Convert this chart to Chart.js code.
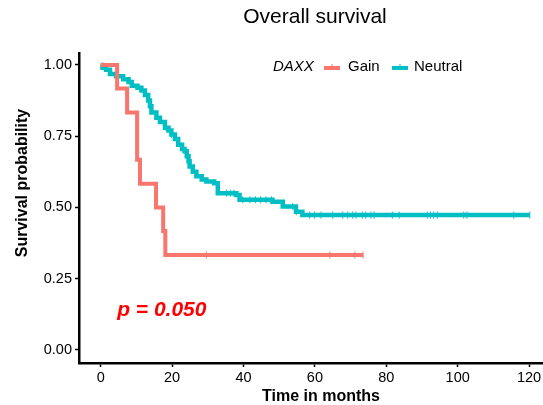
<!DOCTYPE html>
<html>
<head>
<meta charset="utf-8">
<script src="https://cdn.jsdelivr.net/npm/chart.js@4.4.1/dist/chart.umd.min.js"></script>
<style>
  html, body { margin: 0; padding: 0; background: #fff; }
</style>
</head>
<body>
<canvas id="km" width="543" height="405"></canvas>
<script>
// Kaplan-Meier steps: time (months) -> survival after the drop
const gainTimes = [0, 4.6, 7.4, 10.2, 11.0, 15.5, 17.5, 18.1, 73.5];
const gainSurv  = [1, 0.917, 0.833, 0.667, 0.583, 0.5, 0.417, 0.333, 0.333];
const gainCensor = [29.6, 64.2, 71.2, 73.5];

const neutralTimes = [0, 0.5, 1.5, 2.6, 4.3, 6.3, 7.8, 8.7, 10.3, 11.4, 12.4, 13.3, 13.8, 14.2,
  15.6, 16.6, 18.0, 19.0, 19.8, 20.8, 21.7, 22.8, 23.5, 24.1, 24.6, 24.9, 25.8, 26.8, 28.3,
  29.6, 31.8, 32.8, 38.0, 38.9, 48.1, 51.0, 54.7, 56.5, 120.2];
const neutralSurv = [1, 0.99, 0.983, 0.968, 0.96, 0.95, 0.94, 0.927, 0.92, 0.91, 0.895, 0.875, 0.855, 0.833,
  0.815, 0.8, 0.78, 0.77, 0.756, 0.74, 0.72, 0.705, 0.697, 0.68, 0.662, 0.644, 0.625, 0.609, 0.598,
  0.591, 0.585, 0.55, 0.544, 0.527, 0.52, 0.503, 0.485, 0.473, 0.473];
const neutralCensor = [18.3, 19.8, 35.3, 36.3, 37.3, 39.8, 41.8, 43.3, 44.8, 46.3, 47.8, 53.8, 54.8,
  58.5, 59.9, 61.7, 65.0, 67.8, 69.2, 70.6, 71.5, 73.3, 74.2, 75.7, 76.6, 81.7, 83.6, 91.5, 92.4,
  93.3, 94.3, 101.7, 102.6, 115.7, 120.2];

const groups = ['Gain', 'Neutral'];
const colors = ['#F8766D', '#00BFC4'];
const xTicks = [0, 20, 40, 60, 80, 100, 120];
const yTicks = [0, 0.25, 0.5, 0.75, 1];
const pLabel = 'p = 0.050';

const FONT = '"Liberation Sans", Arial, Helvetica, sans-serif';

function curve(times, surv) {
  return times.map((t, i) => ({ x: t, y: surv[i] }));
}
// level of the KM curve at time t (for censor marks)
function levelAt(times, surv, t) {
  let v = surv[0];
  for (let i = 0; i < times.length; i++) {
    if (times[i] <= t) v = surv[i];
  }
  return v;
}
function censorPts(cens, times, surv) {
  return cens.map(t => ({ x: t, y: levelAt(times, surv, t) }));
}

const lineDs = (label, data, color, w) => ({
  type: 'line', label, data, stepped: true, borderColor: color, backgroundColor: color,
  borderWidth: w, pointRadius: 0, fill: false, order: 2
});
const censorDs = (label, data, color) => ({
  type: 'scatter', label, data, pointStyle: 'line', rotation: 90, pointRadius: 3.5,
  borderColor: color, backgroundColor: color, pointBorderWidth: 1, order: 1
});

// text that ggplot puts outside the axes: title, axis titles, legend, p-value
const textPlugin = {
  id: 'kmText',
  afterDraw(chart) {
    const ctx = chart.ctx;
    const xs = chart.scales.x, ys = chart.scales.y;
    ctx.save();
    ctx.fillStyle = '#000';
    ctx.textBaseline = 'middle';
    ctx.textAlign = 'center';
    ctx.font = '21px ' + FONT;
    ctx.fillText('Overall survival', 315, 17);

    ctx.font = 'bold 16px ' + FONT;
    ctx.fillText('Time in months', 321, 397);
    ctx.save();
    ctx.translate(23, 183);
    ctx.rotate(-Math.PI / 2);
    ctx.fillText('Survival probability', 0, 0);
    ctx.restore();

    // legend
    const ly = ys.getPixelForValue(1) + 2;
    ctx.textAlign = 'left';
    ctx.font = 'italic 15px ' + FONT;
    ctx.fillText('DAXX', 273, ly);
    ctx.font = '15px ' + FONT;
    const keyX = [324, 392];
    const txtX = [348, 414];
    groups.forEach((g, i) => {
      ctx.strokeStyle = colors[i];
      ctx.lineWidth = 4;
      ctx.beginPath();
      ctx.moveTo(keyX[i], ly + 1);
      ctx.lineTo(keyX[i] + 16, ly + 1);
      ctx.stroke();
      ctx.lineWidth = 1;
      ctx.beginPath();
      ctx.moveTo(keyX[i] + 8, ly - 3);
      ctx.lineTo(keyX[i] + 8, ly + 3);
      ctx.stroke();
      ctx.fillStyle = '#000';
      ctx.fillText(g, txtX[i], ly);
    });

    // p-value
    ctx.fillStyle = '#FF0000';
    ctx.font = 'italic bold 21px ' + FONT;
    ctx.fillText(pLabel, xs.getPixelForValue(4.6), ys.getPixelForValue(0.14));
    ctx.restore();
  }
};

new Chart(document.getElementById('km').getContext('2d'), {
  data: {
    datasets: [
      lineDs(groups[0], curve(gainTimes, gainSurv), colors[0], 4),
      lineDs(groups[1], curve(neutralTimes, neutralSurv), colors[1], 4.5),
      censorDs(groups[0] + ' censored', censorPts(gainCensor, gainTimes, gainSurv), colors[0]),
      censorDs(groups[1] + ' censored', censorPts(neutralCensor, neutralTimes, neutralSurv), colors[1])
    ]
  },
  options: {
    responsive: false,
    devicePixelRatio: 1,
    animation: false,
    layout: { autoPadding: false, padding: { top: 53, right: 0, bottom: 0, left: 0 } },
    plugins: {
      legend: { display: false },
      title: { display: false },
      tooltip: { enabled: false }
    },
    scales: {
      x: {
        type: 'linear',
        min: -6.08,
        max: 123.9,
        afterBuildTicks: s => { s.ticks = xTicks.map(v => ({ value: v })); },
        afterFit: s => { s.height = 42; s.paddingLeft = 0; s.paddingRight = 0; },
        ticks: { color: '#000', font: { family: FONT, size: 14.5 }, padding: 2, maxRotation: 0 },
        grid: { display: true, drawOnChartArea: false, drawTicks: true, tickLength: 4, tickColor: '#000', tickWidth: 1.5 },
        border: { display: true, color: '#000', width: 2.5 }
      },
      y: {
        type: 'linear',
        min: -0.046,
        max: 1.042,
        afterBuildTicks: s => { s.ticks = yTicks.map(v => ({ value: v })); },
        afterFit: s => { s.width = 79; s.paddingTop = 0; s.paddingBottom = 0; },
        ticks: { color: '#000', font: { family: FONT, size: 14.5 }, padding: 3, callback: v => v.toFixed(2) },
        grid: { display: true, drawOnChartArea: false, drawTicks: true, tickLength: 4, tickColor: '#000', tickWidth: 1.5 },
        border: { display: true, color: '#000', width: 2.5 }
      }
    }
  },
  plugins: [textPlugin]
});
</script>
</body>
</html>
